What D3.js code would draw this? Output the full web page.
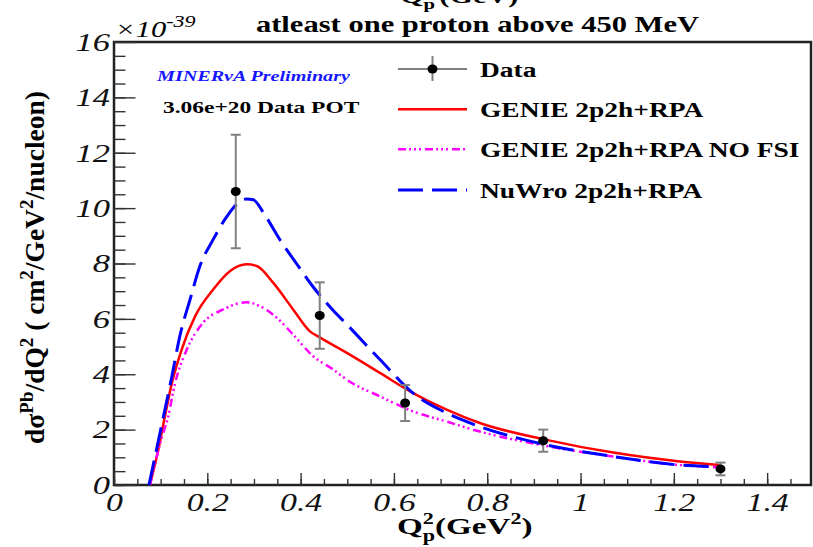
<!DOCTYPE html>
<html>
<head>
<meta charset="utf-8">
<script src="https://cdn.jsdelivr.net/npm/d3@7"></script>
<style>
  body { margin: 0; background: #fff; }
  svg { display: block; font-family: "Liberation Serif", "Times New Roman", serif; }
</style>
</head>
<body>
<svg id="chart" width="813" height="547"></svg>
<script>
// data points (cross section in units of 1e-39)
const dataQ2 = [0.261, 0.441, 0.624, 0.92, 1.30];
const dataXs = [10.6, 6.12, 2.96, 1.6, 0.58];
const dataErr = [2.05, 1.2, 0.65, 0.4, 0.23];

// model curves
const genieQ2 = [0.077, 0.095, 0.109, 0.124, 0.145, 0.174, 0.213, 0.249, 0.284, 0.306, 0.341, 0.384, 0.42, 0.441, 0.499, 0.57, 0.641, 0.713, 0.784, 0.927, 1.07, 1.213, 1.298];
const genieXs = [0, 1.27, 2.47, 3.68, 4.89, 6.1, 7.07, 7.73, 7.97, 7.91, 7.31, 6.34, 5.55, 5.33, 4.77, 4.05, 3.32, 2.72, 2.24, 1.63, 1.17, 0.85, 0.72];

const nofsiQ2 = [0.077, 0.099, 0.116, 0.131, 0.156, 0.191, 0.234, 0.284, 0.313, 0.349, 0.384, 0.427, 0.47, 0.499, 0.57, 0.641, 0.713, 0.784, 0.927, 1.07, 1.213, 1.298];
const nofsiXs = [0, 1.51, 2.47, 3.68, 4.89, 5.86, 6.34, 6.6, 6.46, 6.04, 5.43, 4.65, 4.17, 3.8, 3.2, 2.66, 2.29, 1.93, 1.41, 1.03, 0.72, 0.64];

const nuwroQ2 = [0.075, 0.106, 0.124, 0.141, 0.163, 0.184, 0.213, 0.238, 0.263, 0.284, 0.299, 0.32, 0.356, 0.391, 0.427, 0.47, 0.499, 0.57, 0.641, 0.713, 0.784, 0.927, 1.07, 1.213, 1.298];
const nuwroXs = [0, 2.47, 3.92, 5.37, 6.7, 7.9, 8.88, 9.6, 10.14, 10.33, 10.3, 9.84, 8.85, 8.0, 7.15, 6.3, 5.8, 4.53, 3.32, 2.6, 2.11, 1.45, 1.03, 0.72, 0.66];

const xMajor = [0, 0.2, 0.4, 0.6, 0.8, 1.0, 1.2, 1.4];
const yMajor = [0, 2, 4, 6, 8, 10, 12, 14, 16];
const legendLabels = ['Data', 'GENIE 2p2h+RPA', 'GENIE 2p2h+RPA NO FSI', 'NuWro 2p2h+RPA'];

const K = 1.38; // the text in the picture is drawn wider than normal

const svg = d3.select('#chart');

const x = d3.scaleLinear().domain([0, 1.494]).range([114, 811]);
const y = d3.scaleLinear().domain([0, 16]).range([485, 42]);

function stretch(sel, X, Y, k) {
  return sel.attr('transform', `translate(${X},${Y}) scale(${k || K},1)`);
}

// title (first line is cut by the top of the picture)
const top1 = stretch(svg.append('text'), 400, 3)
  .attr('font-size', 22).attr('font-weight', 'bold');
top1.append('tspan').text('Q');
top1.append('tspan').attr('font-size', 15).attr('dy', 6).text('p');
top1.append('tspan').attr('dy', -6).attr('dx', 3).text('(GeV)');

stretch(svg.append('text'), 477.5, 32, 1.3)
  .attr('text-anchor', 'middle')
  .attr('font-size', 23.5)
  .attr('font-weight', 'bold')
  .text('atleast one proton above 450 MeV');

// frame
svg.append('rect')
  .attr('x', x(0)).attr('y', y(16))
  .attr('width', x(1.494) - x(0)).attr('height', y(0) - y(16))
  .attr('fill', 'none').attr('stroke', '#222').attr('stroke-width', 2.5);

// x axis
const xMinor = svg.append('g')
  .attr('transform', `translate(0,${y(0)})`)
  .call(d3.axisBottom(x).tickValues(d3.range(0, 1.49, 0.05)).tickSizeInner(-6).tickSizeOuter(0).tickFormat(''));
xMinor.select('.domain').remove();

const xAxis = svg.append('g')
  .attr('transform', `translate(0,${y(0)})`)
  .call(d3.axisBottom(x).tickValues(xMajor).tickSizeInner(-12).tickSizeOuter(0)
    .tickFormat(d => d3.format('~g')(d)));
xAxis.select('.domain').remove();
xAxis.selectAll('text')
  .attr('y', 26).attr('dy', 0)
  .attr('transform', `scale(${K},1)`)
  .attr('font-size', 24.5).attr('font-style', 'italic')
  .attr('font-family', '"Liberation Serif", serif').attr('fill', '#111');

// y axis
const yMinor = svg.append('g')
  .attr('transform', `translate(${x(0)},0)`)
  .call(d3.axisLeft(y).tickValues(d3.range(0, 16, 0.5)).tickSizeInner(-11.5).tickSizeOuter(0).tickFormat(''));
yMinor.select('.domain').remove();

const yAxis = svg.append('g')
  .attr('transform', `translate(${x(0)},0)`)
  .call(d3.axisLeft(y).tickValues(yMajor).tickSizeInner(-21.5).tickSizeOuter(0));
yAxis.select('.domain').remove();
yAxis.selectAll('text')
  .attr('x', -4 / K).attr('dy', '0.33em')
  .attr('transform', `scale(${K},1)`)
  .attr('font-size', 25).attr('font-style', 'italic')
  .attr('font-family', '"Liberation Serif", serif').attr('fill', '#111');

svg.selectAll('.tick line').attr('stroke', '#333').attr('stroke-width', 1.4);

// exponent
const expo = stretch(svg.append('text'), 115, 37, 1.3)
  .attr('font-size', 23.5).attr('font-style', 'italic');
expo.append('tspan').text('×10');
expo.append('tspan').attr('font-size', 17).attr('dy', -10).text('-39');

// axis titles
const yt = svg.append('text')
  .attr('transform', 'translate(44,267.5) rotate(-90)')
  .attr('text-anchor', 'middle')
  .attr('font-size', 27.5)
  .attr('font-weight', 'bold');
yt.append('tspan').text('dσ');
yt.append('tspan').attr('font-size', 19).attr('dy', -11).text('Pb');
yt.append('tspan').attr('dy', 11).text('/dQ');
yt.append('tspan').attr('font-size', 19).attr('dy', -11).text('2');
yt.append('tspan').attr('dy', 11).text(' ( cm');
yt.append('tspan').attr('font-size', 19).attr('dy', -11).text('2');
yt.append('tspan').attr('dy', 11).text('/GeV');
yt.append('tspan').attr('font-size', 19).attr('dy', -11).text('2');
yt.append('tspan').attr('dy', 11).text('/nucleon)');

const xt = stretch(svg.append('text'), 397, 534)
  .attr('font-size', 24)
  .attr('font-weight', 'bold');
xt.append('tspan').text('Q');
xt.append('tspan').attr('font-size', 16).attr('dy', -10).text('2');
xt.append('tspan').attr('font-size', 16).attr('dx', -8).attr('dy', 17).text('p');
xt.append('tspan').attr('dy', -7).text('(GeV');
xt.append('tspan').attr('font-size', 16).attr('dy', -10).text('2');
xt.append('tspan').attr('dy', 10).text(')');

// curves
const line = d3.line()
  .x(d => x(d[0]))
  .y(d => y(d[1]))
  .curve(d3.curveMonotoneX);

const curves = [
  { q: genieQ2, v: genieXs, color: '#ff0000', width: 2.5, dash: null },
  { q: nofsiQ2, v: nofsiXs, color: '#ff00ff', width: 2.5, dash: '8,3,2,3,2,3,2,4' },
  { q: nuwroQ2, v: nuwroXs, color: '#0000ff', width: 3, dash: '25,9' },
];

svg.append('g').selectAll('path')
  .data(curves)
  .join('path')
  .attr('d', c => line(c.q.map((q, i) => [q, c.v[i]])))
  .attr('fill', 'none')
  .attr('stroke', c => c.color)
  .attr('stroke-width', c => c.width)
  .attr('stroke-dasharray', c => c.dash);

// data points with error bars
const pts = dataQ2.map((q, i) => ({ q, v: dataXs[i], e: dataErr[i] }));
const dg = svg.append('g').selectAll('g').data(pts).join('g');
dg.append('line')
  .attr('x1', d => x(d.q)).attr('x2', d => x(d.q))
  .attr('y1', d => y(d.v - d.e)).attr('y2', d => y(d.v + d.e))
  .attr('stroke', '#808080').attr('stroke-width', 2);
dg.selectAll('.cap')
  .data(d => [d.v - d.e, d.v + d.e].map(v => ({ q: d.q, v })))
  .join('line')
  .attr('class', 'cap')
  .attr('x1', d => x(d.q) - 5).attr('x2', d => x(d.q) + 5)
  .attr('y1', d => y(d.v)).attr('y2', d => y(d.v))
  .attr('stroke', '#808080').attr('stroke-width', 2);
dg.append('ellipse')
  .attr('cx', d => x(d.q)).attr('cy', d => y(d.v))
  .attr('rx', 5).attr('ry', 4.5)
  .attr('fill', '#000');

// labels in the top left corner
stretch(svg.append('text'), 157, 81)
  .attr('font-size', 14.6).attr('font-weight', 'bold').attr('font-style', 'italic')
  .attr('fill', '#1515ff')
  .text('MINERνA Preliminary');

stretch(svg.append('text'), 163, 112.5)
  .attr('font-size', 17).attr('font-weight', 'bold')
  .text('3.06e+20 Data POT');

// legend
const legendY = [69, 109.3, 149.3, 190];
const leg = svg.append('g');
leg.append('line').attr('x1', 398).attr('x2', 467).attr('y1', legendY[0]).attr('y2', legendY[0])
  .attr('stroke', '#808080').attr('stroke-width', 2);
leg.append('line').attr('x1', 432.5).attr('x2', 432.5).attr('y1', legendY[0] - 13).attr('y2', legendY[0] + 12)
  .attr('stroke', '#808080').attr('stroke-width', 2);
leg.append('ellipse').attr('cx', 432.5).attr('cy', legendY[0]).attr('rx', 5).attr('ry', 4.5).attr('fill', '#000');

curves.forEach((c, i) => {
  leg.append('line')
    .attr('x1', 398).attr('x2', 467)
    .attr('y1', legendY[i + 1]).attr('y2', legendY[i + 1])
    .attr('stroke', c.color).attr('stroke-width', c.width)
    .attr('stroke-dasharray', c.dash);
});

legendLabels.forEach((label, i) => {
  stretch(leg.append('text'), 480, legendY[i] + 7.5)
    .attr('font-size', 19.9).attr('font-weight', 'bold')
    .text(label);
});
</script>
</body>
</html>
